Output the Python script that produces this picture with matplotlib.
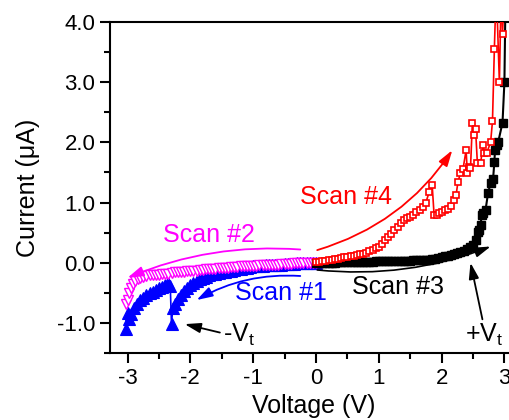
import matplotlib.pyplot as plt
from matplotlib.ticker import MultipleLocator

plt.rcParams['font.family'] = ['Liberation Sans', 'DejaVu Sans']
plt.rcParams['mathtext.fontset'] = 'custom'
plt.rcParams['mathtext.rm'] = 'Liberation Sans'
plt.rcParams['axes.unicode_minus'] = False

# Scan #1 (0 -> -3 V), filled up triangles
scan1_v = [0.00, -0.05, -0.10, -0.15, -0.20, -0.25, -0.30, -0.35, -0.40, -0.45,
           -0.50, -0.55, -0.60, -0.65, -0.70, -0.75, -0.80, -0.85, -0.90, -0.95,
           -1.00, -1.05, -1.10, -1.15, -1.20, -1.25, -1.30, -1.35, -1.40, -1.45,
           -1.50, -1.55, -1.60, -1.65, -1.70, -1.75, -1.80, -1.85, -1.90, -1.95,
           -2.00, -2.05, -2.10, -2.15, -2.20, -2.25, -2.28, -2.30, -2.32, -2.36,
           -2.40, -2.45, -2.50, -2.55, -2.60, -2.65, -2.70, -2.75, -2.80, -2.85,
           -2.90, -2.95, -2.98, -3.00, -3.02]
scan1_i = [0.00, 0.00, 0.00, -0.01, -0.01, -0.01, -0.01, -0.02, -0.02, -0.02,
           -0.02, -0.03, -0.03, -0.03, -0.03, -0.04, -0.04, -0.05, -0.05, -0.06,
           -0.06, -0.07, -0.08, -0.09, -0.10, -0.11, -0.12, -0.13, -0.14, -0.15,
           -0.16, -0.17, -0.18, -0.19, -0.21, -0.23, -0.25, -0.27, -0.30, -0.33,
           -0.37, -0.42, -0.47, -0.53, -0.60, -0.68, -0.75, -1.02, -0.38, -0.34,
           -0.37, -0.40, -0.42, -0.45, -0.48, -0.51, -0.54, -0.58, -0.62, -0.68,
           -0.75, -0.85, -0.94, -0.83, -1.10]

# Scan #2 (-3 -> 0 V), open down triangles
scan2_v = [-3.02, -3.00, -2.97, -2.94, -2.91, -2.88, -2.84, -2.80, -2.75, -2.70,
           -2.65, -2.60, -2.55, -2.50, -2.45, -2.40, -2.35, -2.30, -2.25, -2.20,
           -2.15, -2.10, -2.05, -2.00, -1.95, -1.90, -1.85, -1.80, -1.75, -1.70,
           -1.65, -1.60, -1.55, -1.50, -1.45, -1.40, -1.35, -1.30, -1.25, -1.20,
           -1.15, -1.10, -1.05, -1.00, -0.95, -0.90, -0.85, -0.80, -0.75, -0.70,
           -0.65, -0.60, -0.55, -0.50, -0.45, -0.40, -0.35, -0.30, -0.25, -0.20,
           -0.15, -0.10, -0.05, 0.00]
scan2_i = [-0.68, -0.62, -0.50, -0.42, -0.36, -0.31, -0.27, -0.25, -0.23, -0.22,
           -0.21, -0.21, -0.20, -0.20, -0.19, -0.18, -0.18, -0.17, -0.16, -0.16,
           -0.15, -0.15, -0.14, -0.14, -0.13, -0.13, -0.12, -0.12, -0.11, -0.11,
           -0.10, -0.10, -0.09, -0.09, -0.08, -0.08, -0.07, -0.07, -0.07, -0.06,
           -0.06, -0.06, -0.05, -0.05, -0.05, -0.04, -0.04, -0.04, -0.03, -0.03,
           -0.03, -0.03, -0.02, -0.02, -0.02, -0.02, -0.01, -0.01, -0.01, -0.01,
           0.00, 0.00, 0.00, 0.00]

# Scan #3 (0 -> +3 V), filled squares
scan3_v = [0.00, 0.05, 0.10, 0.15, 0.20, 0.25, 0.30, 0.35, 0.40, 0.45,
           0.50, 0.55, 0.60, 0.65, 0.70, 0.75, 0.80, 0.85, 0.90, 0.95,
           1.00, 1.05, 1.10, 1.15, 1.20, 1.25, 1.30, 1.35, 1.40, 1.45,
           1.50, 1.55, 1.60, 1.65, 1.70, 1.75, 1.80, 1.85, 1.90, 1.95,
           2.00, 2.05, 2.10, 2.15, 2.20, 2.25, 2.30, 2.35, 2.40, 2.45,
           2.50, 2.55, 2.58, 2.60, 2.62, 2.64, 2.66, 2.70, 2.74, 2.78,
           2.82, 2.84, 2.85, 2.88, 2.90, 2.97, 3.00, 3.02]
scan3_i = [0.00, 0.00, 0.00, 0.00, 0.00, 0.00, 0.00, 0.01, 0.01, 0.01,
           0.01, 0.01, 0.02, 0.02, 0.02, 0.02, 0.02, 0.02, 0.02, 0.03,
           0.03, 0.03, 0.03, 0.03, 0.03, 0.03, 0.03, 0.03, 0.03, 0.03,
           0.03, 0.04, 0.04, 0.04, 0.05, 0.05, 0.05, 0.06, 0.07, 0.08,
           0.10, 0.11, 0.12, 0.13, 0.14, 0.16, 0.18, 0.20, 0.23, 0.27,
           0.30, 0.38, 0.51, 0.55, 0.63, 0.80, 0.82, 0.88, 1.16, 1.32,
           1.40, 1.67, 1.87, 1.95, 2.00, 2.33, 3.00, 4.60]

# Scan #4 (+3 -> 0 V), open squares
scan4_v = [0.00, 0.05, 0.10, 0.15, 0.20, 0.25, 0.30, 0.35, 0.40, 0.45,
           0.50, 0.55, 0.60, 0.65, 0.70, 0.75, 0.80, 0.85, 0.90, 0.95,
           1.00, 1.05, 1.10, 1.15, 1.20, 1.25, 1.30, 1.35, 1.40, 1.45,
           1.50, 1.55, 1.60, 1.65, 1.70, 1.75, 1.80, 1.85, 1.88, 1.92,
           1.96, 2.00, 2.05, 2.10, 2.15, 2.19, 2.23, 2.26, 2.30, 2.34,
           2.39, 2.41, 2.44, 2.46, 2.49, 2.51, 2.54, 2.57, 2.62, 2.66,
           2.68, 2.72, 2.78, 2.81, 2.84, 2.87, 2.92, 2.95, 2.97, 3.00]
scan4_i = [0.02, 0.02, 0.03, 0.03, 0.04, 0.05, 0.06, 0.07, 0.08, 0.09,
           0.10, 0.11, 0.12, 0.13, 0.14, 0.15, 0.17, 0.19, 0.21, 0.24,
           0.27, 0.31, 0.37, 0.42, 0.48, 0.54, 0.60, 0.66, 0.71, 0.74,
           0.76, 0.80, 0.85, 0.88, 0.92, 1.00, 1.17, 1.29, 0.80, 0.79,
           0.82, 0.85, 0.88, 0.90, 0.95, 1.04, 1.12, 1.34, 1.49, 1.55,
           1.87, 1.49, 1.59, 1.57, 2.33, 2.12, 2.23, 1.65, 1.65, 1.95,
           1.82, 1.83, 2.00, 2.35, 3.55, 4.60, 3.00, 4.60, 3.80, 4.60]

fig = plt.figure(figsize=(5.09, 4.20), dpi=100)
ax = fig.add_axes([0.216, 0.1595, 0.812, 0.788])

ax.plot(scan1_v, scan1_i, color='#0000ff', marker='^', markersize=8,
        linewidth=1.2, markeredgewidth=0.8, zorder=2)
ax.plot(scan2_v, scan2_i, color='#ff00ff', marker='v', markersize=7,
        markerfacecolor='white', markeredgewidth=1.0, linewidth=1.2, zorder=3)
ax.plot(scan3_v, scan3_i, color='black', marker='s', markersize=5.5,
        linewidth=1.5, zorder=4)
ax.plot(scan4_v, scan4_i, color='#ff0000', marker='s', markersize=4.5,
        markerfacecolor='white', markeredgewidth=1.2, linewidth=1.2, zorder=5)

arrow = dict(arrowstyle='-|>,head_length=0.8,head_width=0.25', lw=1.3,
             shrinkA=0, shrinkB=0, mutation_scale=12)

ax.annotate('', xy=(2.17, 1.87), xytext=(0.02, 0.21),
            arrowprops=dict(arrow, color='#ff0000', connectionstyle='arc3,rad=0.18'))
ax.annotate('', xy=(-3.0, -0.25), xytext=(-0.25, 0.22),
            arrowprops=dict(arrow, color='#ff00ff', connectionstyle='arc3,rad=0.12'))
ax.annotate('', xy=(-1.9, -0.62), xytext=(-0.25, -0.22),
            arrowprops=dict(arrow, color='#0000ff', connectionstyle='arc3,rad=0.15'))
ax.annotate('', xy=(2.78, 0.27), xytext=(0.02, -0.12),
            arrowprops=dict(arrow, color='black', lw=1.2, connectionstyle='arc3,rad=0.12'))
ax.annotate('', xy=(-2.09, -1.02), xytext=(-1.53, -1.16),
            arrowprops=dict(arrow, color='black'))
ax.annotate('', xy=(2.46, 0.0), xytext=(2.65, -0.94),
            arrowprops=dict(arrow, color='black'))

ax.text(-0.26, 1.09, 'Scan #4', color='#ff0000', fontsize=18, va='center')
ax.text(-2.44, 0.46, 'Scan #2', color='#ff00ff', fontsize=18, va='center')
ax.text(-1.29, -0.51, 'Scan #1', color='#0000ff', fontsize=18, va='center')
ax.text(0.57, -0.41, 'Scan #3', color='black', fontsize=18, va='center')
ax.text(-1.48, -1.2, r'-V$_\mathregular{t}$', color='black', fontsize=18, va='center')
ax.text(2.38, -1.2, r'+V$_\mathregular{t}$', color='black', fontsize=18, va='center')

ax.set_xlim(-3.28, 3.3)
ax.set_ylim(-1.5, 4.0)
ax.xaxis.set_major_locator(MultipleLocator(1))
ax.xaxis.set_minor_locator(MultipleLocator(0.5))
ax.yaxis.set_major_locator(MultipleLocator(1))
ax.yaxis.set_minor_locator(MultipleLocator(0.5))
ax.yaxis.set_major_formatter(plt.FormatStrFormatter('%.1f'))

ax.spines['right'].set_visible(False)
for s in ['left', 'bottom', 'top']:
    ax.spines[s].set_linewidth(1.5)
ax.tick_params(which='both', direction='out', width=1.5, labelsize=16,
               top=False, right=False)
ax.tick_params(which='major', length=7)
ax.tick_params(which='minor', length=4)

ax.set_xlabel('Voltage (V)', fontsize=18)
ax.set_ylabel('Current (μA)', fontsize=18)
ax.xaxis.set_label_coords(0.494, -0.125)
ax.yaxis.set_label_coords(-0.17, 0.5)

fig.savefig('out.png', dpi=100)
